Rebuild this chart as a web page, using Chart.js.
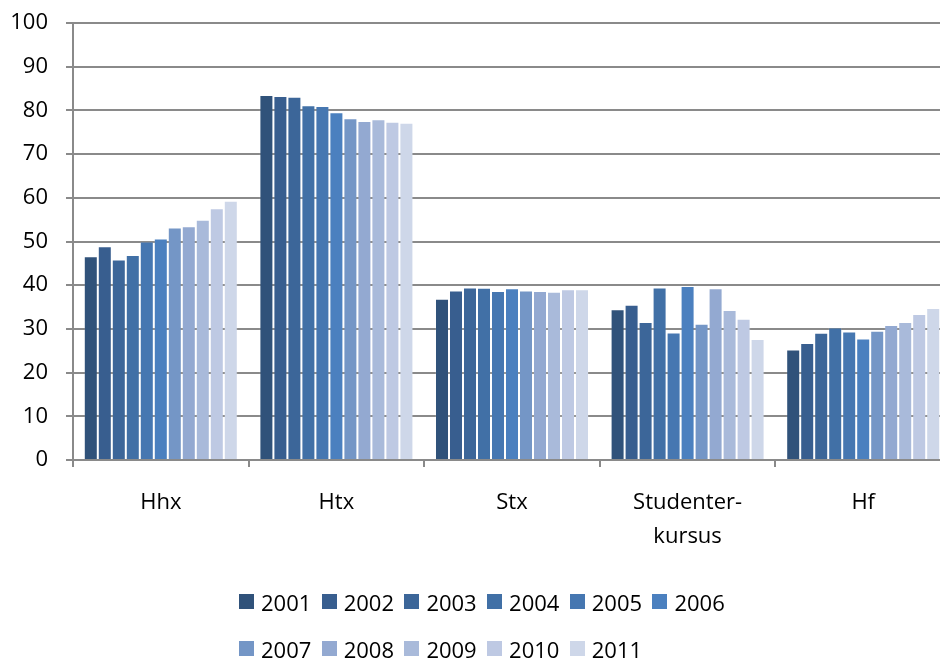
<!DOCTYPE html>
<html>
<head>
<meta charset="utf-8">
<script src="https://cdn.jsdelivr.net/npm/chart.js@4.4.1/dist/chart.umd.min.js"></script>
<style>
  html, body { margin: 0; padding: 0; background: #fff; overflow: hidden; width: 940px; height: 659px; }
  #wrap { position: relative; width: 951px; height: 659px; }
  #legend { position: absolute; left: 239px; top: 578px; width: 500px; display: flex; flex-wrap: wrap;
            font-family: "Open Sans", sans-serif; font-size: 22px; color: #000; }
  .item { width: 82.7px; height: 47px; display: flex; align-items: center; }
  .box { width: 15px; height: 15px; margin-right: 7px; flex: none; }
</style>
</head>
<body>
<div id="wrap">
  <canvas id="c" width="951" height="659"></canvas>
  <div id="legend"></div>
</div>
<script>
const categories = ["Hhx", "Htx", "Stx", ["Studenter-", "kursus"], "Hf"];
const years = ["2001","2002","2003","2004","2005","2006","2007","2008","2009","2010","2011"];
const yTicks = [0,10,20,30,40,50,60,70,80,90,100];

// values per year: [Hhx, Htx, Stx, Studenterkursus, Hf]
const v2001 = [46.6, 83.5, 36.9, 34.5, 25.3];
const v2002 = [48.9, 83.3, 38.8, 35.5, 26.8];
const v2003 = [45.9, 83.1, 39.5, 31.6, 29.1];
const v2004 = [46.9, 81.2, 39.4, 39.5, 30.3];
const v2005 = [50.0, 81.0, 38.7, 29.2, 29.4];
const v2006 = [50.7, 79.6, 39.3, 39.8, 27.8];
const v2007 = [53.2, 78.2, 38.8, 31.2, 29.6];
const v2008 = [53.5, 77.6, 38.7, 39.3, 30.9];
const v2009 = [55.0, 78.0, 38.5, 34.3, 31.6];
const v2010 = [57.6, 77.4, 39.1, 32.3, 33.4];
const v2011 = [59.3, 77.2, 39.1, 27.7, 34.8];

const seriesValues = [v2001, v2002, v2003, v2004, v2005, v2006, v2007, v2008, v2009, v2010, v2011];
const colors = ["#30527A","#385E8F","#3C6699","#4170A6","#4677B1","#4B80BF","#7496C6","#93A9D1","#A9BADA","#BEC9E3","#CED7E9"];

const datasets = years.map((y, i) => ({
  label: y,
  data: seriesValues[i],
  backgroundColor: colors[i],
  borderColor: "rgba(255,255,255,0.12)",
  borderWidth: 1,
  categoryPercentage: 0.877,
  barPercentage: 1.0
}));

const FONT = { family: "'Open Sans', sans-serif", size: 22, lineHeight: 1.55 };

new Chart(document.getElementById("c"), {
  type: "bar",
  data: { labels: categories, datasets },
  options: {
    responsive: false,
    animation: false,
    layout: { padding: { top: 23, right: 0, left: 0, bottom: 0 } },
    plugins: { legend: { display: false }, tooltip: { enabled: false } },
    scales: {
      x: {
        grid: { drawOnChartArea: false, drawTicks: true, tickLength: 7, color: "#8a8a8a", lineWidth: 2, offset: true },
        border: { color: "#8a8a8a", width: 2 },
        ticks: { font: FONT, color: "#000", padding: 19, maxRotation: 0, autoSkip: false },
        afterFit: s => { s.height = 199; s.paddingLeft = 0; s.paddingRight = 0; }
      },
      y: {
        min: 0, max: 100,
        afterBuildTicks: s => { s.ticks = yTicks.map(v => ({ value: v })); },
        grid: { color: "#8a8a8a", lineWidth: 2, tickLength: 7 },
        border: { color: "#8a8a8a", width: 2 },
        ticks: { font: { family: "'Open Sans', sans-serif", size: 22 }, color: "#000", padding: 18 },
        afterFit: s => { s.width = 73; s.paddingTop = 0; s.paddingBottom = 0; }
      }
    }
  }
});

const legend = document.getElementById("legend");
datasets.forEach(d => {
  const it = document.createElement("div");
  it.className = "item";
  const b = document.createElement("span");
  b.className = "box";
  b.style.background = d.backgroundColor;
  const t = document.createElement("span");
  t.textContent = d.label;
  it.appendChild(b); it.appendChild(t);
  legend.appendChild(it);
});
</script>
</body>
</html>
